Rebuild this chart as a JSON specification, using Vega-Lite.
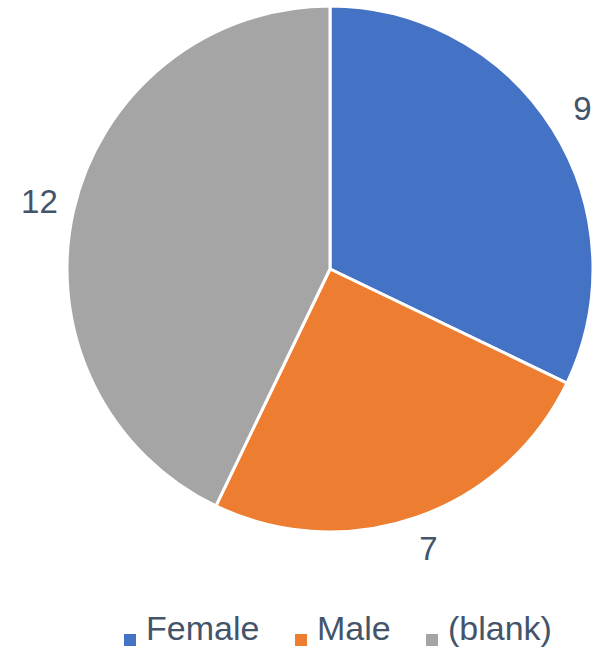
{
  "$schema": "https://vega.github.io/schema/vega-lite/v6.json",
  "width": 526,
  "height": 526,
  "autosize": "none",
  "padding": {"left": 67, "top": 6, "right": 22, "bottom": 116},
  "background": "white",
  "data": {
    "values": [
      {"gender": "Female", "count": 9, "order": 1},
      {"gender": "Male", "count": 7, "order": 2},
      {"gender": "(blank)", "count": 12, "order": 3}
    ]
  },
  "encoding": {
    "theta": {"field": "count", "type": "quantitative", "stack": true},
    "order": {"field": "order", "type": "quantitative", "sort": "ascending"},
    "color": {
      "field": "gender",
      "type": "nominal",
      "sort": ["Female", "Male", "(blank)"],
      "scale": {"domain": ["Female", "Male", "(blank)"], "range": ["#4472C4", "#ED7D31", "#A5A5A5"]},
      "legend": {
        "title": null,
        "orient": "none",
        "direction": "horizontal",
        "legendX": 46,
        "legendY": 617,
        "symbolType": "square",
        "symbolSize": 144,
        "symbolStrokeWidth": 0,
        "labelFontSize": 34,
        "labelFont": "Liberation Sans",
        "labelColor": "#44546A",
        "labelOffset": -1,
        "labelBaseline": "alphabetic",
        "columnPadding": 24,
        "padding": 0,
        "labelLimit": 0
      }
    }
  },
  "layer": [
    {"mark": {"type": "arc", "outerRadius": 263, "stroke": "white", "strokeWidth": 3}},
    {
      "mark": {"type": "text", "radius": 298, "fontSize": 33, "font": "Liberation Sans", "align": "center", "baseline": "middle"},
      "encoding": {
        "text": {"field": "count", "type": "quantitative"},
        "fill": {"value": "#44546A"}
      }
    }
  ],
  "config": {"view": {"stroke": null}}
}
